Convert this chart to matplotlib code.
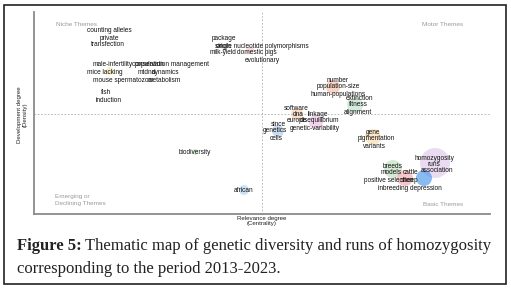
import matplotlib
matplotlib.use("Agg")
import matplotlib.pyplot as plt
from matplotlib.patches import Circle, Rectangle

# theme labels: (x = centrality, y = density), plot units
words = ["counting alleles", "private", "transfection",
         "package", "origin", "single nucleotide polymorphisms", "milk-yield",
         "domestic pigs", "evolutionary",
         "male-infertility", "population", "conservation management",
         "mice lacking", "mtdna", "dynamics", "mouse spermatozoa", "metabolism",
         "fish", "induction",
         "number", "population-size", "human-populations", "extinction",
         "fitness", "alignment",
         "software", "dna", "linkage", "europe", "disequilibrium",
         "since", "genetics", "genetic-variability", "cells",
         "gene", "pigmentation", "variants",
         "homozygosity", "runs", "association", "breeds", "models", "cattle",
         "positive selection", "sheep", "inbreeding depression",
         "biodiversity", "african"]
word_x = [75, 75, 74,
          190, 190, 228, 189, 223, 228,
          79, 116, 137,
          71, 113, 132, 89, 130,
          72, 75,
          304, 304, 304, 325, 324, 324,
          262, 264, 284, 263, 286,
          244, 241, 281, 242,
          339, 342, 340,
          400, 400, 403, 359, 357, 377,
          355, 376, 376,
          161, 210]
word_y = [183, 176, 170,
          175, 167, 167, 162, 161, 153,
          149, 149, 149,
          142, 142, 142, 134, 134,
          121, 114,
          133, 127, 120, 116, 110, 101,
          106, 99, 99, 93, 93,
          90, 83, 85, 76,
          82, 75, 67,
          56, 49, 43, 48, 42, 42,
          33, 33, 25,
          62, 23]

# cluster bubbles
bub_x = [216, 76, 299, 321, 263, 282, 244, 339, 401, 359, 371, 390, 161, 210]
bub_y = [164, 143, 127, 109, 100, 92, 83, 77, 51, 45, 36, 36, 62, 24]
bub_r = [4, 4, 7, 8, 6, 7, 6, 8, 15, 9, 8, 8, 3, 5]
bub_c = ["#f4c2c8", "#f5e6a0", "#f2b8a0", "#b8e0c8", "#f5c9a8", "#e8b8e0",
         "#a8c4e8", "#f8d8a8", "#dcc4e8", "#b8dcb8", "#f2a0a8", "#3a8ee8",
         "#c0e0c0", "#a8d0f0"]

x_mid, y_mid = 228, 100

W, H = 511, 289
fig = plt.figure(figsize=(W / 100, H / 100), dpi=100)
fig.patch.set_facecolor("white")
fig.add_artist(Rectangle((4 / W, 5 / H), 502 / W, 279 / H, transform=fig.transFigure,
                         fill=False, edgecolor="#222222", lw=1.2))

ax = fig.add_axes([34 / W, (H - 214) / H, 456 / W, 202 / H])
ax.set_xlim(0, 456)
ax.set_ylim(0, 202)
for s in ["top", "right"]:
    ax.spines[s].set_visible(False)
for s in ["left", "bottom"]:
    ax.spines[s].set_color("#8a8a8a")
    ax.spines[s].set_linewidth(1.3)
ax.set_xticks([])
ax.set_yticks([])

ax.axvline(x_mid, color="#b0b0b0", lw=0.6, ls=(0, (2, 2)))
ax.axhline(y_mid, color="#b0b0b0", lw=0.6, ls=(0, (2, 2)))

for x, y, r, c in zip(bub_x, bub_y, bub_r, bub_c):
    ax.add_patch(Circle((x, y), r, facecolor=c, edgecolor="none", alpha=0.6))

fam = ["Liberation Sans", "DejaVu Sans"]
for w, x, y in zip(words, word_x, word_y):
    ax.text(x, y, w, ha="center", va="center", fontsize=4.7, color="#111111", family=fam)

qcol = "#9a9a9a"
ax.text(22, 190, "Niche Themes", fontsize=4.6, color=qcol, family=fam, va="center")
ax.text(388, 190, "Motor Themes", fontsize=4.6, color=qcol, family=fam, va="center")
ax.text(21, 14, "Emerging or\nDeclining Themes", fontsize=4.6, color=qcol, family=fam,
        va="center", linespacing=1.6)
ax.text(389, 9, "Basic Themes", fontsize=4.6, color=qcol, family=fam, va="center")

fig.text(262 / W, 1 - 221 / H, "Relevance degree\n(Centrality)", ha="center", va="center",
         fontsize=4.4, color="#222222", family=fam, linespacing=1.1)
fig.text(22 / W, 1 - 115 / H, "Development degree\n(Density)", ha="center", va="center",
         rotation=90, fontsize=4.4, color="#222222", family=fam, linespacing=1.1)

# caption
serif = ["Liberation Serif", "DejaVu Serif"]
t1 = fig.text(17 / W, 1 - 250 / H, "Figure 5:", fontsize=12, weight="bold",
              family=serif, color="#222222", va="baseline")
fig.canvas.draw()
bb = t1.get_window_extent()
fig.text(bb.x1 / W + 3 / W, 1 - 250 / H,
         "Thematic map of genetic diversity and runs of homozygosity",
         fontsize=12, family=serif, color="#222222", va="baseline")
fig.text(17 / W, 1 - 273 / H, "corresponding to the period 2013-2023.",
         fontsize=12, family=serif, color="#222222", va="baseline")

fig.savefig("out.png", dpi=100)
